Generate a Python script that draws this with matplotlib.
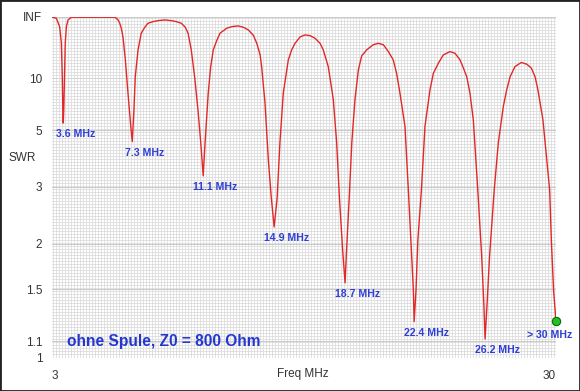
import numpy as np
import matplotlib.pyplot as plt
from matplotlib.ticker import FixedLocator, MultipleLocator
from matplotlib.patches import Rectangle

# SWR curve (freq in MHz, SWR)
freq = [3.00, 3.23, 3.41, 3.50, 3.55, 3.58, 3.60, 3.63, 3.67, 3.71, 3.77, 3.86, 3.95, 4.03,
        6.36, 6.44, 6.54, 6.63, 6.71, 6.80, 6.93, 7.07, 7.22, 7.30, 7.39, 7.46, 7.61,
        7.78, 7.97, 8.14, 8.41, 8.68, 9.04, 9.39, 9.66, 9.93, 10.14, 10.29, 10.46, 10.64,
        10.82, 10.97, 11.10, 11.20, 11.37, 11.50, 11.64, 11.82, 12.00, 12.36, 12.63, 12.98,
        13.25, 13.52, 13.79, 13.97, 14.15, 14.23, 14.41, 14.59, 14.74, 14.90,
        15.06, 15.21, 15.39, 15.66, 15.84, 16.02, 16.29, 16.55, 16.82, 17.09, 17.36,
        17.53, 17.80, 18.07, 18.25, 18.39, 18.57, 18.70, 18.78, 18.93, 19.06, 19.23,
        19.41, 19.59, 19.86, 20.21, 20.48, 20.75, 21.02, 21.28, 21.46, 21.64, 21.91,
        22.09, 22.27, 22.36, 22.40, 22.50, 22.60, 22.79, 22.98, 23.25, 23.43, 23.70,
        23.96, 24.32, 24.59, 24.86, 25.04, 25.22, 25.39, 25.57, 25.81, 26.02, 26.14,
        26.20, 26.30, 26.44, 26.69, 26.91, 27.18, 27.36, 27.54, 27.80, 28.14, 28.43,
        28.68, 28.88, 29.03, 29.30, 29.54, 29.66, 29.75, 29.87, 30.00]
swr = [1000, 378, 65.9, 24.7, 10.3, 6.3, 5.4, 6.3, 10.3, 24.7, 65.9, 194, 309, 850,
       850, 378, 194, 99, 57, 32.8, 14.7, 7.9, 5.2, 4.45, 6.3, 10.3, 19.4,
       39.6, 62, 99, 130, 161, 194, 161, 130, 99, 62, 39.6, 19.4, 10.3,
       6.3, 4.4, 3.28, 4.4, 7.9, 12.5, 19.4, 27.0, 39.6, 56.8, 65.9, 70.8,
       62, 49.5, 34.9, 24.4, 16.7, 12.6, 6.9, 3.75, 2.8, 2.24,
       2.75, 4.4, 7.9, 14.7, 19.4, 24.4, 32.2, 35.9, 34.5, 30.3, 24.4,
       19.4, 12.6, 7.2, 4.4, 2.82, 1.92, 1.56, 1.92, 2.82, 4.4, 7.2,
       11.7, 16.3, 19.4, 23.1, 24.4, 23.1, 18.4, 14.7, 11.0, 7.9, 5.2,
       2.93, 1.84, 1.49, 1.235, 1.49, 2.05, 2.93, 5.2, 8.3, 11.0, 13.6,
       16.7, 18.4, 17.5, 14.7, 12.2, 10.3, 7.9, 5.6, 2.93, 1.84, 1.35,
       1.115, 1.35, 1.84, 2.93, 4.4, 6.6, 8.3, 10.3, 12.6, 13.8, 13.3,
       12.2, 10.3, 8.3, 5.6, 3.54, 2.93, 2.05, 1.49, 1.24]

dip_freq = [3.6, 7.3, 11.1, 14.9, 18.7, 22.4, 26.2]
dip_swr = [5.4, 4.45, 3.28, 2.24, 1.56, 1.235, 1.115]
end_freq = 30.0
end_swr = 1.24

yticks = [1, 1.1, 1.5, 2, 3, 5, 10, 1e4]
ylabels = ['1', '1.1', '1.5', '2', '3', '5', '10', 'INF']

blue = '#2f3fd4'
plt.rcParams['font.family'] = ['Liberation Sans', 'DejaVu Sans']


def fwd(s):
    s = np.asarray(s, dtype=float)
    with np.errstate(divide='ignore', invalid='ignore'):
        return (s - 1) / (s + 1)


def inv(r):
    r = np.asarray(r, dtype=float)
    with np.errstate(divide='ignore', invalid='ignore'):
        return (1 + r) / (1 - r)


fig = plt.figure(figsize=(5.8, 3.91), dpi=100)
ax = fig.add_axes([52 / 580, 33.5 / 391, 504 / 580, 341 / 391])
ax.set_yscale('function', functions=(fwd, inv))
ax.set_xlim(3, 30)
ax.set_ylim(1, 1e4)

# fine background grid
ax.xaxis.set_minor_locator(MultipleLocator(27 / 168))
ax.yaxis.set_minor_locator(FixedLocator(inv(np.linspace(0, 0.995, 114))))
ax.grid(which='minor', color='#d8d8d8', lw=0.5)
ax.grid(which='major', axis='y', color='#c2c2c2', lw=0.6)
ax.set_axisbelow(True)

ax.plot(freq, swr, color='#e02828', lw=1.0)
ax.plot([end_freq], [end_swr], 'o', ms=6, mfc='#22c022', mec='#0a6a0a', mew=0.8,
        clip_on=False, zorder=5)

for f, s in zip(dip_freq, dip_swr):
    ax.annotate(f'{f} MHz', (f, s), xytext=(12, -11), textcoords='offset pixels',
                ha='center', va='center', color=blue, fontsize=7.6, fontweight='bold')
ax.annotate('> 30 MHz', (end_freq, end_swr), xytext=(-6, -14), textcoords='offset pixels',
            ha='center', va='center', color=blue, fontsize=7.6, fontweight='bold',
            annotation_clip=False)

ax.text(0.03, 0.048, 'ohne Spule, Z0 = 800 Ohm', transform=ax.transAxes,
        color='#2436d0', fontsize=11.2, fontweight='bold', va='center')

ax.set_yticks(yticks)
ax.set_yticklabels(ylabels)
ax.set_xticks([3, 30])
ax.set_xticklabels(['3', '30'])
ax.tick_params(which='both', length=0, labelsize=8.5, labelcolor='#333333')
ax.tick_params(axis='y', pad=7)
ax.tick_params(axis='x', pad=9)
xl = ax.get_xticklabels()
xl[0].set_ha('left')
xl[1].set_ha('right')
for sp in ax.spines.values():
    sp.set_visible(False)

fig.text(22 / 580, 1 - 158 / 391, 'SWR', ha='center', va='center', fontsize=8.5, color='#333333')
fig.text(303 / 580, 1 - 374 / 391, 'Freq MHz', ha='center', va='center', fontsize=8.5, color='#333333')

fig.patches.append(Rectangle((0, 0), 1, 1, transform=fig.transFigure, fill=False,
                             ec='#222222', lw=2.0))

fig.savefig('out.png', dpi=100)
